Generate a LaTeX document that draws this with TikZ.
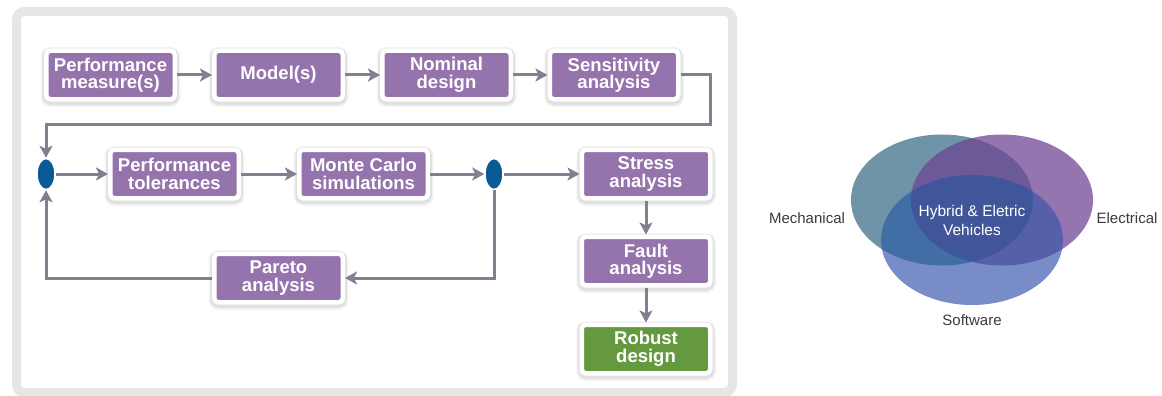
\documentclass[tikz,border=0pt]{standalone}
\usepackage{fontspec}
\setmainfont{Liberation Sans}
\usetikzlibrary{arrows.meta,shapes.geometric,shadows}
\definecolor{boxpurple}{HTML}{9574AD}
\definecolor{boxgreen}{HTML}{64993F}
\definecolor{arrgray}{HTML}{808090}
\definecolor{framegray}{HTML}{E6E6E6}
\definecolor{junctionblue}{HTML}{0A5A96}
\definecolor{mechc}{HTML}{6F93A7}
\definecolor{elecc}{HTML}{9575B0}
\definecolor{softc}{HTML}{788CC8}
\definecolor{mec}{HTML}{6C5A98}
\definecolor{msc}{HTML}{416EA5}
\definecolor{esc}{HTML}{555FAA}
\definecolor{allc}{HTML}{41559B}
\definecolor{labgray}{HTML}{3A3A3A}
\begin{document}
\begin{tikzpicture}[x=1pt,y=-1pt,
  glow/.style={preaction={draw=black, fill=none, draw opacity=0.05, line width=11pt,
      transform canvas={yshift=-2pt}},
    preaction={draw=black, fill=none, draw opacity=0.07, line width=8pt,
      transform canvas={yshift=-1.5pt}}},
  stepbox/.style={rectangle, rounded corners=4pt, fill=boxpurple, draw=white,
    line width=4.5pt, minimum width=128.5pt, minimum height=48.5pt, inner sep=0pt,
    text=white, font=\fontsize{18.5}{17.5}\selectfont\bfseries, align=center, glow},
  goalbox/.style={stepbox, fill=boxgreen},
  junction/.style={ellipse, fill=junctionblue, draw=white, line width=1.5pt,
    minimum width=18pt, minimum height=31pt, inner sep=0pt},
  arr/.style={draw=arrgray, line width=3pt,
    -{Stealth[length=12pt, width=13pt, inset=3pt]}},
  venlabel/.style={text=labgray, font=\fontsize{15}{17}\selectfont, inner sep=0pt},
  venin/.style={text=white, font=\fontsize{15.5}{19}\selectfont, align=center, inner sep=0pt}
]
\useasboundingbox (0,0) rectangle (1162,396);
\fill[white] (0,0) rectangle (1162,396);
\draw[draw=framegray, line width=9pt, rounded corners=8pt] (16.5,11.5) rectangle (732.5,392.5);

% nodes
\node[stepbox] (pm) at (110.5,75) {Performance\\measure(s)};
\node[stepbox] (mod) at (278.5,75) {Model(s)};
\node[stepbox] (nom) at (446.5,75) {Nominal\\design};
\node[stepbox] (sens) at (614,75) {Sensitivity\\analysis};
\node[junction] (e1) at (46,174) {};
\node[stepbox] (pt) at (174.5,174) {Performance\\tolerances};
\node[stepbox] (mc) at (363.5,174) {Monte Carlo\\simulations};
\node[junction] (e2) at (494,174) {};
\node[stepbox] (stress) at (646,174) {Stress\\analysis};
\node[stepbox] (fault) at (646,261) {Fault\\analysis};
\node[goalbox] (robust) at (646,349) {Robust\\design};
\node[stepbox] (pareto) at (278.5,278) {Pareto\\analysis};
\coordinate (c1) at (710,124);

% connectors
\draw[arr] (pm) -- (mod);
\draw[arr] (mod) -- (nom);
\draw[arr] (nom) -- (sens);
\draw[arr] (sens.east) -| (c1) -| (e1.north);
\draw[arr] (e1) -- (pt);
\draw[arr] (pt) -- (mc);
\draw[arr] (mc) -- (e2);
\draw[arr] (e2) -- (stress);
\draw[arr] (stress) -- (fault);
\draw[arr] (fault) -- (robust);
\draw[arr] (e2.south) |- (pareto.east);
\draw[arr] (pareto.west) -| (e1.south);

% Venn diagram
\fill[mechc] (942,200) ellipse [x radius=91pt, y radius=65.5pt];
\fill[elecc] (1002,200) ellipse [x radius=91pt, y radius=65.5pt];
\fill[softc] (972,240) ellipse [x radius=91pt, y radius=65pt];
\begin{scope}
  \clip (942,200) ellipse [x radius=91pt, y radius=65.5pt];
  \fill[mec] (1002,200) ellipse [x radius=91pt, y radius=65.5pt];
\end{scope}
\begin{scope}
  \clip (942,200) ellipse [x radius=91pt, y radius=65.5pt];
  \fill[msc] (972,240) ellipse [x radius=91pt, y radius=65pt];
\end{scope}
\begin{scope}
  \clip (1002,200) ellipse [x radius=91pt, y radius=65.5pt];
  \fill[esc] (972,240) ellipse [x radius=91pt, y radius=65pt];
\end{scope}
\begin{scope}
  \clip (942,200) ellipse [x radius=91pt, y radius=65.5pt];
  \clip (1002,200) ellipse [x radius=91pt, y radius=65.5pt];
  \fill[allc] (972,240) ellipse [x radius=91pt, y radius=65pt];
\end{scope}
\node[venlabel] (mech) at (807,218) {Mechanical};
\node[venlabel] (elec) at (1127,218) {Electrical};
\node[venlabel] (soft) at (972,320) {Software};
\node[venin] (hev) at (972,220) {Hybrid \& Eletric\\Vehicles};
\end{tikzpicture}
\end{document}
